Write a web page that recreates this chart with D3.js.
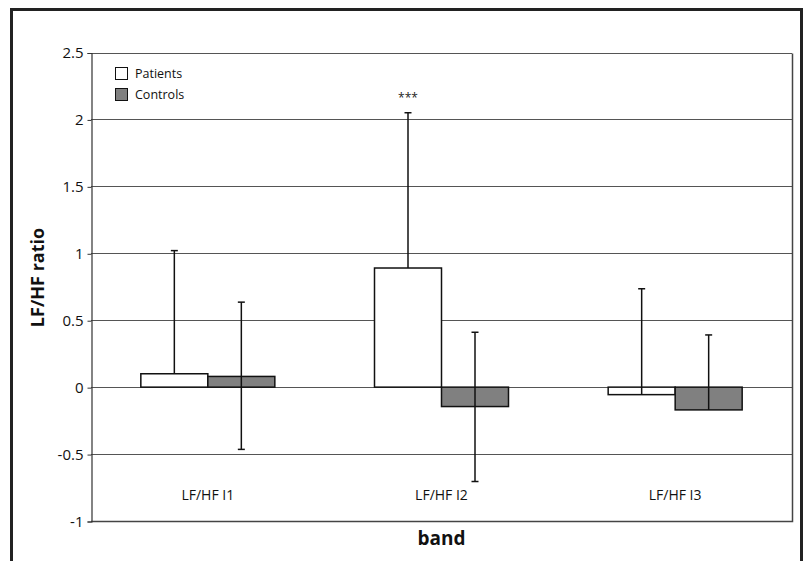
<!DOCTYPE html>
<html>
<head>
<meta charset="utf-8">
<script src="https://cdn.jsdelivr.net/npm/d3@7"></script>
<style>
  body { margin: 0; background: #fff; }
  svg { display: block; font-family: 'Open Sans', 'DejaVu Sans', sans-serif; }
</style>
</head>
<body>
<div id="chart"></div>
<script>
// chart data
const bands = ['LF/HF I1', 'LF/HF I2', 'LF/HF I3'];
const seriesNames = ['Patients', 'Controls'];
const patients = [0.10, 0.89, -0.056];
const controls = [0.08, -0.145, -0.17];
const patientsErrHigh = [1.02, 2.05, 0.735];
const controlsErrHigh = [0.635, 0.41, 0.39];
const controlsErrLow = [-0.465, -0.705, -0.17];
const yTicks = [-1, -0.5, 0, 0.5, 1, 1.5, 2, 2.5];
const marks = [{ band: 'LF/HF I2', series: 'Patients', text: '***' }];

const W = 803;
const H = 561;
const plot = { left: 91, right: 792, top: 52.5, bottom: 521 };

const svg = d3.select('#chart')
  .append('svg')
  .attr('width', W)
  .attr('height', H);

// outer frame, open at the bottom
svg.append('path')
  .attr('d', `M11.5,${H + 5}V9.5H801.5V${H + 5}`)
  .attr('fill', 'none')
  .attr('stroke', '#222')
  .attr('stroke-width', 3);

const x = d3.scaleBand()
  .domain(bands)
  .range([plot.left, plot.right]);

const inner = d3.scaleBand()
  .domain(seriesNames)
  .range([0, 134]);

const y = d3.scaleLinear()
  .domain([-1, 2.5])
  .range([plot.bottom, plot.top]);

// gridlines
svg.append('g')
  .selectAll('line')
  .data(yTicks)
  .enter()
  .append('line')
  .attr('x1', plot.left)
  .attr('x2', plot.right)
  .attr('y1', d => Math.round(y(d)) + 0.5)
  .attr('y2', d => Math.round(y(d)) + 0.5)
  .attr('stroke', '#555')
  .attr('stroke-width', 1);

// plot border right / bottom
svg.append('path')
  .attr('d', `M${plot.right + 0.5},${Math.round(plot.top) + 0.5}V${plot.bottom + 0.5}H${plot.left}`)
  .attr('fill', 'none')
  .attr('stroke', '#444')
  .attr('stroke-width', 1.5);

// y axis (plain hyphen for negatives, like the original)
const fmt = d => String(d);
const yAxis = svg.append('g')
  .attr('transform', `translate(${plot.left + 0.5},0.5)`)
  .call(d3.axisLeft(y).tickValues(yTicks).tickSize(4).tickPadding(4).tickFormat(fmt));
yAxis.select('.domain').attr('stroke', '#333').attr('stroke-width', 1.2);
yAxis.selectAll('.tick line').attr('stroke', '#333');
yAxis.selectAll('.tick text')
  .attr('font-size', 15)
  .attr('fill', '#111')
  .attr('font-family', "'Open Sans', sans-serif");

const groupOffset = d => x(d) + x.bandwidth() / 2 - 67;
const bars = [
  { name: 'Patients', values: patients, fill: '#fff' },
  { name: 'Controls', values: controls, fill: '#808080' },
];

bars.forEach((s) => {
  svg.append('g')
    .selectAll('rect')
    .data(bands.map((b, i) => ({ band: b, value: s.values[i] })))
    .enter()
    .append('rect')
    .attr('x', d => groupOffset(d.band) + inner(s.name))
    .attr('width', inner.bandwidth())
    .attr('y', d => y(Math.max(0, d.value)))
    .attr('height', d => Math.abs(y(d.value) - y(0)))
    .attr('fill', s.fill)
    .attr('stroke', '#111')
    .attr('stroke-width', 1.5);
});

// error bars
const errs = [];
bands.forEach((b, i) => {
  errs.push({ band: b, series: 'Patients', lo: patients[i], hi: patientsErrHigh[i], capLo: false });
  errs.push({ band: b, series: 'Controls', lo: controlsErrLow[i], hi: controlsErrHigh[i], capLo: controlsErrLow[i] < controls[i] });
});
const cx = d => groupOffset(d.band) + inner(d.series) + inner.bandwidth() / 2;

const eg = svg.append('g').attr('stroke', '#111').attr('stroke-width', 1.5);
eg.selectAll('line.v')
  .data(errs)
  .enter()
  .append('line')
  .attr('class', 'v')
  .attr('x1', cx)
  .attr('x2', cx)
  .attr('y1', d => y(d.lo))
  .attr('y2', d => y(d.hi));
eg.selectAll('line.hi')
  .data(errs)
  .enter()
  .append('line')
  .attr('class', 'hi')
  .attr('x1', d => cx(d) - 3.5)
  .attr('x2', d => cx(d) + 3.5)
  .attr('y1', d => y(d.hi))
  .attr('y2', d => y(d.hi));
eg.selectAll('line.lo')
  .data(errs.filter(d => d.capLo))
  .enter()
  .append('line')
  .attr('class', 'lo')
  .attr('x1', d => cx(d) - 3.5)
  .attr('x2', d => cx(d) + 3.5)
  .attr('y1', d => y(d.lo))
  .attr('y2', d => y(d.lo));

// significance marks
svg.selectAll('text.sig')
  .data(marks)
  .enter()
  .append('text')
  .attr('class', 'sig')
  .attr('x', d => groupOffset(d.band) + inner(d.series) + inner.bandwidth() / 2)
  .attr('y', d => y(patientsErrHigh[bands.indexOf(d.band)]) - 11)
  .attr('text-anchor', 'middle')
  .attr('font-size', 12)
  .attr('fill', '#222')
  .text(d => d.text);

// category labels
svg.selectAll('text.cat')
  .data(bands)
  .enter()
  .append('text')
  .attr('class', 'cat')
  .attr('x', d => x(d) + x.bandwidth() / 2)
  .attr('y', 500)
  .attr('text-anchor', 'middle')
  .attr('font-size', 14)
  .attr('fill', '#111')
  .text(d => d);

// legend
const legend = svg.append('g').attr('transform', 'translate(115.5,67.5)');
bars.forEach((s, i) => {
  legend.append('rect')
    .attr('x', 0)
    .attr('y', i * 21)
    .attr('width', 12)
    .attr('height', 12)
    .attr('fill', s.fill)
    .attr('stroke', '#111')
    .attr('stroke-width', 1);
  legend.append('text')
    .attr('x', 19.5)
    .attr('y', i * 21 + 10.5)
    .attr('font-size', 12.5)
    .attr('fill', '#111')
    .text(s.name);
});

// axis titles
svg.append('text')
  .attr('transform', 'translate(44,277.5) rotate(-90)')
  .attr('text-anchor', 'middle')
  .attr('font-size', 18)
  .attr('font-weight', 'bold')
  .attr('fill', '#111')
  .text('LF/HF ratio');

svg.append('text')
  .attr('x', 441.5)
  .attr('y', 545)
  .attr('text-anchor', 'middle')
  .attr('font-size', 19)
  .attr('font-weight', 'bold')
  .attr('fill', '#111')
  .text('band');
</script>
</body>
</html>
